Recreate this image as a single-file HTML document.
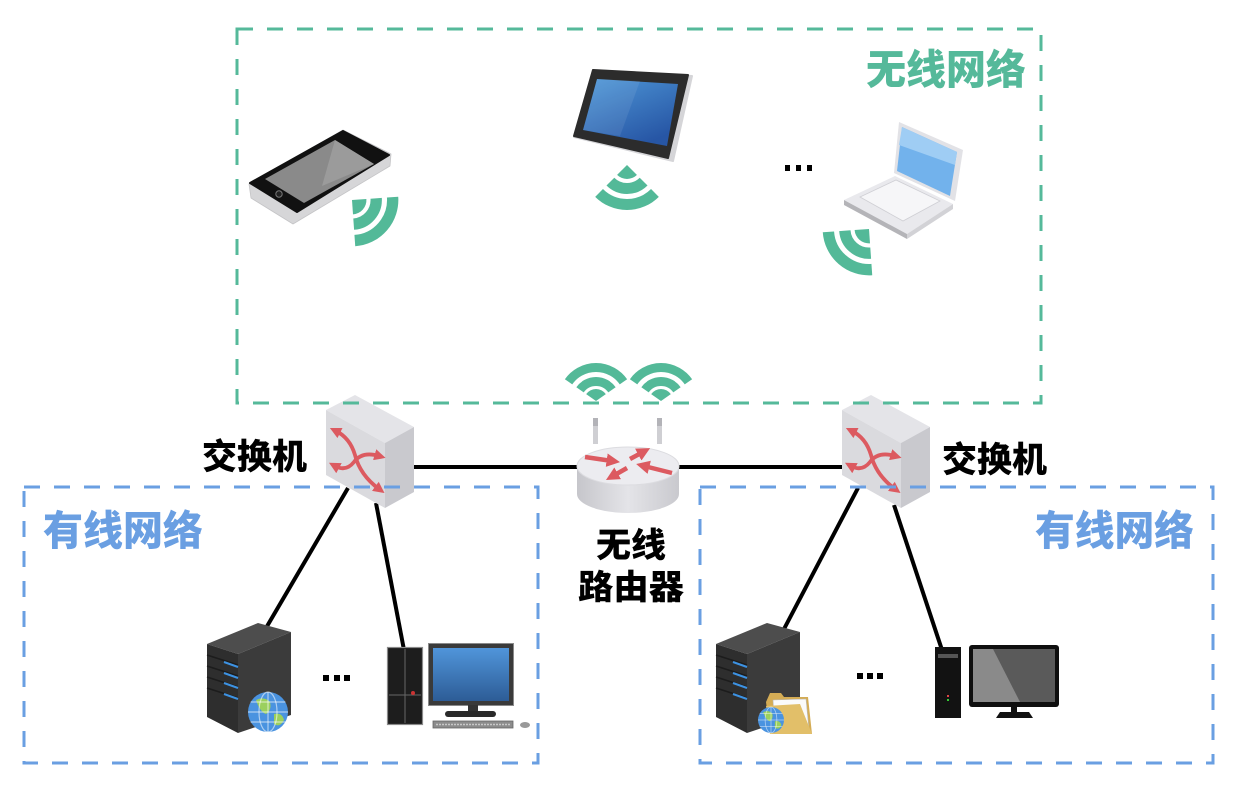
<!DOCTYPE html>
<html><head><meta charset="utf-8">
<style>
html,body{margin:0;padding:0;background:#fff;}
svg{display:block;}
text{font-family:"Liberation Sans","Noto Sans CJK SC",sans-serif;font-weight:900;}
</style></head><body>
<svg width="1240" height="790" viewBox="0 0 1240 790" xmlns="http://www.w3.org/2000/svg">
<defs>
  <g id="fan45" fill="#53b998" stroke="#53b998">
    <path d="M0,0 L9.9,-9.9 A14,14 0 0 1 9.9,9.9 Z" stroke="none"/>
    <path d="M16.62,-16.62 A23.5,23.5 0 0 1 16.62,16.62" fill="none" stroke-width="11"/>
    <path d="M27.93,-27.93 A39.5,39.5 0 0 1 27.93,27.93" fill="none" stroke-width="11"/>
  </g>
  <g id="fan55" fill="#53b998" stroke="#53b998">
    <path d="M0,0 L6.88,-9.83 A12,12 0 0 1 6.88,9.83 Z" stroke="none"/>
    <path d="M11.19,-15.97 A19.5,19.5 0 0 1 11.19,15.97" fill="none" stroke-width="9"/>
    <path d="M19.22,-27.44 A33.5,33.5 0 0 1 19.22,27.44" fill="none" stroke-width="9"/>
  </g>
  <marker id="ah" viewBox="0 0 10 10" refX="4" refY="5" markerWidth="3" markerHeight="3" orient="auto-start-reverse">
    <path d="M0,0 L10,5 L0,10 z" fill="#dc5a60"/>
  </marker>
  <linearGradient id="rg" x1="0" x2="1" y1="0" y2="0">
    <stop offset="0" stop-color="#c6c6cb"/>
    <stop offset="0.5" stop-color="#e4e4e8"/>
    <stop offset="1" stop-color="#c9c9ce"/>
  </linearGradient>
  <linearGradient id="tabg" x1="0" y1="0" x2="0.6" y2="1">
    <stop offset="0" stop-color="#4f98d8"/>
    <stop offset="1" stop-color="#2756a5"/>
  </linearGradient>
  <linearGradient id="mong" x1="0" y1="0" x2="0" y2="1">
    <stop offset="0" stop-color="#5095da"/>
    <stop offset="1" stop-color="#2d5c96"/>
  </linearGradient>
  <g id="switch">
    <polygon points="326,410 355,395 414,427 385,443" fill="#e4e4e8"/>
    <polygon points="326,410 385,443 385,508 326,475" fill="#dadade"/>
    <polygon points="385,443 414,427 414,492 385,508" fill="#c9c9ce"/>
    <g fill="none" stroke="#dc5a60" stroke-width="3.8" marker-start="url(#ah)" marker-end="url(#ah)">
      <path d="M336,431 Q350,438 355,455 Q360,475 379,489"/>
      <path d="M335,466 Q346,472 354,462 Q362,451 379,456"/>
    </g>
  </g>
  <g id="server">
    <polygon points="207,644 258,623 291,632 238,654" fill="#4d4d4d"/>
    <polygon points="207,644 238,654 238,733 207,717" fill="#2e2e2e"/>
    <polygon points="238,654 291,632 291,715 238,733" fill="#3b3b3b"/>
    <g stroke="#1c1c1c" stroke-width="1.5">
      <line x1="207" y1="655" x2="238" y2="665"/>
      <line x1="207" y1="666" x2="238" y2="676"/>
      <line x1="207" y1="677" x2="238" y2="687"/>
      <line x1="207" y1="688" x2="238" y2="698"/>
    </g>
    <g stroke="#3d92e2" stroke-width="2">
      <line x1="224" y1="662" x2="238" y2="667"/>
      <line x1="224" y1="673" x2="238" y2="678"/>
      <line x1="224" y1="683" x2="238" y2="688"/>
      <line x1="224" y1="694" x2="238" y2="699"/>
    </g>
  </g>
  <g id="globe">
    <circle cx="0" cy="0" r="1" fill="#4a93e0"/>
    <path d="M-0.6,-0.6 Q-0.2,-0.8 0.1,-0.5 Q0.2,-0.1 -0.1,0.1 Q-0.4,0 -0.6,-0.6 Z" fill="#9bd05e"/>
    <path d="M0.3,0.1 Q0.7,0 0.8,0.4 Q0.6,0.8 0.3,0.6 Z" fill="#9bd05e"/>
    <g fill="none" stroke="#ffffff" stroke-opacity="0.55" stroke-width="0.06">
      <ellipse cx="0" cy="0" rx="0.45" ry="1"/>
      <line x1="0" y1="-1" x2="0" y2="1"/>
      <line x1="-1" y1="0" x2="1" y2="0"/>
      <line x1="-0.87" y1="-0.5" x2="0.87" y2="-0.5"/>
      <line x1="-0.87" y1="0.5" x2="0.87" y2="0.5"/>
    </g>
  </g>
</defs>

<rect width="1240" height="790" fill="#fff"/>

<!-- connecting lines -->
<g stroke="#000" stroke-width="4">
  <line x1="400" y1="467" x2="600" y2="467"/>
  <line x1="650" y1="467" x2="860" y2="467"/>
  <line x1="348" y1="488" x2="266" y2="628"/>
  <line x1="376" y1="503" x2="404" y2="650"/>
  <line x1="858" y1="488" x2="784" y2="629"/>
  <line x1="894" y1="505" x2="942" y2="650"/>
</g>

<!-- phone -->
<polygon points="249,184 343,130 391,154 390,166 293,224 251,198" fill="#d6d6d8" stroke="#c4c4c6" stroke-width="0.8" stroke-linejoin="round"/>
<polygon points="250,183 343,131 389,155 297,212" fill="#111" stroke="#111" stroke-width="2" stroke-linejoin="round"/>
<polygon points="265,179 335,140 374,164 304,203" fill="#8a8a8a"/>
<polygon points="335,140 374,164 322,186" fill="#9b9b9b"/>
<circle cx="279" cy="194" r="3.2" fill="#222" stroke="#777" stroke-width="1"/>
<use href="#fan45" transform="translate(352,200) rotate(41) scale(1.03)"/>

<!-- tablet -->
<polygon points="593,70 692,76 673,161 574,137" fill="#d5d5d8" stroke="#d5d5d8" stroke-width="2" stroke-linejoin="round"/>
<polygon points="593,70 688,75 668,158 574,136" fill="#2c2c2c" stroke="#2c2c2c" stroke-width="2" stroke-linejoin="round"/>
<polygon points="597,79 678,84 667,146 583,130" fill="url(#tabg)"/>
<polygon points="597,79 640,81 620,136 583,130" fill="#ffffff" fill-opacity="0.08"/>
<use href="#fan45" transform="translate(627,165) rotate(90)"/>

<!-- dots top -->
<g fill="#000">
  <rect x="785" y="165" width="5" height="6"/>
  <rect x="796" y="165" width="5" height="6"/>
  <rect x="807" y="165" width="5" height="6"/>
</g>

<!-- laptop -->
<polygon points="899,122 963,150 955,201 894,173" fill="#e2e2e6"/>
<polygon points="902,127 957,152 950,196 897,171" fill="#72b2ec"/>
<polygon points="902,127 957,152 955,165 899,145" fill="#9fcdf4"/>
<polygon points="844,200 895,176 953,204 907,234" fill="#e9e9ed"/>
<polygon points="860,197 896,180 940,201 903,221" fill="#f6f6f8" stroke="#cfcfd4" stroke-width="0.8"/>
<polygon points="844,200 907,234 907,239 844,205" fill="#b4b4b8"/>
<polygon points="907,234 953,204 953,209 907,239" fill="#d2d2d6"/>
<use href="#fan45" transform="translate(869,229) rotate(131) scale(1.03)"/>

<!-- router wifi -->
<use href="#fan55" transform="translate(596,401) rotate(-90)"/>
<use href="#fan55" transform="translate(661,401) rotate(-90)"/>

<!-- router -->
<rect x="593" y="418" width="5" height="26" fill="#cfcfd3"/>
<rect x="593" y="418" width="5" height="8" fill="#b3b3b8"/>
<rect x="657" y="418" width="5" height="26" fill="#cfcfd3"/>
<rect x="657" y="418" width="5" height="8" fill="#b3b3b8"/>
<path d="M577,466 L577,494 A51,19 0 0 0 679,494 L679,466 Z" fill="url(#rg)"/>
<ellipse cx="628" cy="466" rx="51" ry="19" fill="#ececf0" stroke="#dcdce0" stroke-width="1"/>
<g stroke="#dc5a60" stroke-width="4.5" marker-end="url(#ah)">
  <line x1="585" y1="457" x2="612" y2="461"/>
  <line x1="672" y1="473" x2="644" y2="466"/>
  <line x1="630" y1="459" x2="643" y2="452"/>
  <line x1="627" y1="468" x2="613" y2="476"/>
</g>

<!-- switches -->
<use href="#switch"/>
<use href="#switch" transform="translate(516,0)"/>

<!-- left servers/pcs -->
<use href="#server"/>
<use href="#globe" transform="translate(268,712) scale(20)"/>
<g fill="#000">
  <rect x="323" y="675" width="6" height="6"/>
  <rect x="334" y="675" width="6" height="6"/>
  <rect x="344" y="675" width="6" height="6"/>
</g>
<rect x="387.5" y="647.5" width="35" height="77" fill="#1d1d1d" stroke="#8a8a8a" stroke-width="1.2"/>
<line x1="405" y1="649" x2="405" y2="723" stroke="#666" stroke-width="1"/>
<line x1="389" y1="695" x2="421" y2="695" stroke="#666" stroke-width="1"/>
<circle cx="413" cy="693" r="2" fill="#c33"/>
<rect x="428.5" y="643.5" width="85" height="62" fill="#3a3a3a" stroke="#8a8a8a" stroke-width="1"/>
<rect x="433" y="648" width="76" height="53" fill="url(#mong)"/>
<rect x="468" y="705" width="10" height="7" fill="#333"/>
<rect x="445" y="711" width="51" height="6" rx="3" fill="#2a2a2a"/>
<rect x="433" y="721" width="80" height="7" fill="#8c8c8c" stroke="#666" stroke-width="0.8"/>
<line x1="436" y1="724.5" x2="510" y2="724.5" stroke="#c8c8c8" stroke-width="1.5" stroke-dasharray="2 1"/>
<ellipse cx="525" cy="725" rx="5" ry="3" fill="#999"/>

<!-- right servers/pcs -->
<use href="#server" transform="translate(509,0)"/>
<polygon points="766,702 770,693 781,693 784,697 808,697 812,734 770,734" fill="#d4ac55"/>
<polygon points="773,700 806,699 809,730 775,730" fill="#fafafa" stroke="#bbb" stroke-width="0.6"/>
<polygon points="766,706 800,704 812,734 770,734" fill="#e2bf69"/>
<use href="#globe" transform="translate(771,720) scale(13)"/>
<g fill="#000">
  <rect x="857" y="673" width="6" height="6"/>
  <rect x="867" y="673" width="6" height="6"/>
  <rect x="877" y="673" width="6" height="6"/>
</g>
<rect x="935" y="647" width="26" height="71" fill="#121212"/>
<rect x="938" y="654" width="20" height="4" fill="#555"/>
<rect x="947" y="695" width="2" height="2" fill="#d44"/>
<rect x="947" y="699" width="2" height="2" fill="#3c3"/>
<rect x="969" y="645" width="90" height="62" rx="3" fill="#0f0f0f"/>
<rect x="973" y="649" width="82" height="53" fill="#5a5a5a"/>
<polygon points="973,649 993,649 1020,702 973,702" fill="#8a8a8a"/>
<rect x="1011" y="707" width="6" height="5" fill="#111"/>
<polygon points="996,718 1000,712 1029,712 1033,718" fill="#111"/>

<!-- dashed boxes -->
<rect x="237" y="29" width="804" height="374" fill="none" stroke="#55b99a" stroke-width="3" stroke-dasharray="16 14"/>
<rect x="24" y="487" width="514" height="276" fill="none" stroke="#6a9fe2" stroke-width="3" stroke-dasharray="16 14"/>
<rect x="700" y="487" width="513" height="276" fill="none" stroke="#6a9fe2" stroke-width="3" stroke-dasharray="16 14"/>

<!-- labels -->
<text x="866" y="84" font-size="41" fill="#55b99a" textLength="160" lengthAdjust="spacingAndGlyphs">无线网络</text>
<text x="43" y="545" font-size="41" fill="#6a9fe2" textLength="160" lengthAdjust="spacingAndGlyphs">有线网络</text>
<text x="1035" y="545" font-size="41" fill="#6a9fe2" textLength="159" lengthAdjust="spacingAndGlyphs">有线网络</text>
<text x="202" y="469" font-size="35" fill="#000" textLength="105" lengthAdjust="spacingAndGlyphs">交换机</text>
<text x="942" y="472" font-size="35" fill="#000" textLength="105" lengthAdjust="spacingAndGlyphs">交换机</text>
<text x="596" y="557" font-size="34" fill="#000" textLength="70" lengthAdjust="spacingAndGlyphs">无线</text>
<text x="578" y="599" font-size="34" fill="#000" textLength="106" lengthAdjust="spacingAndGlyphs">路由器</text>
</svg>
</body></html>
